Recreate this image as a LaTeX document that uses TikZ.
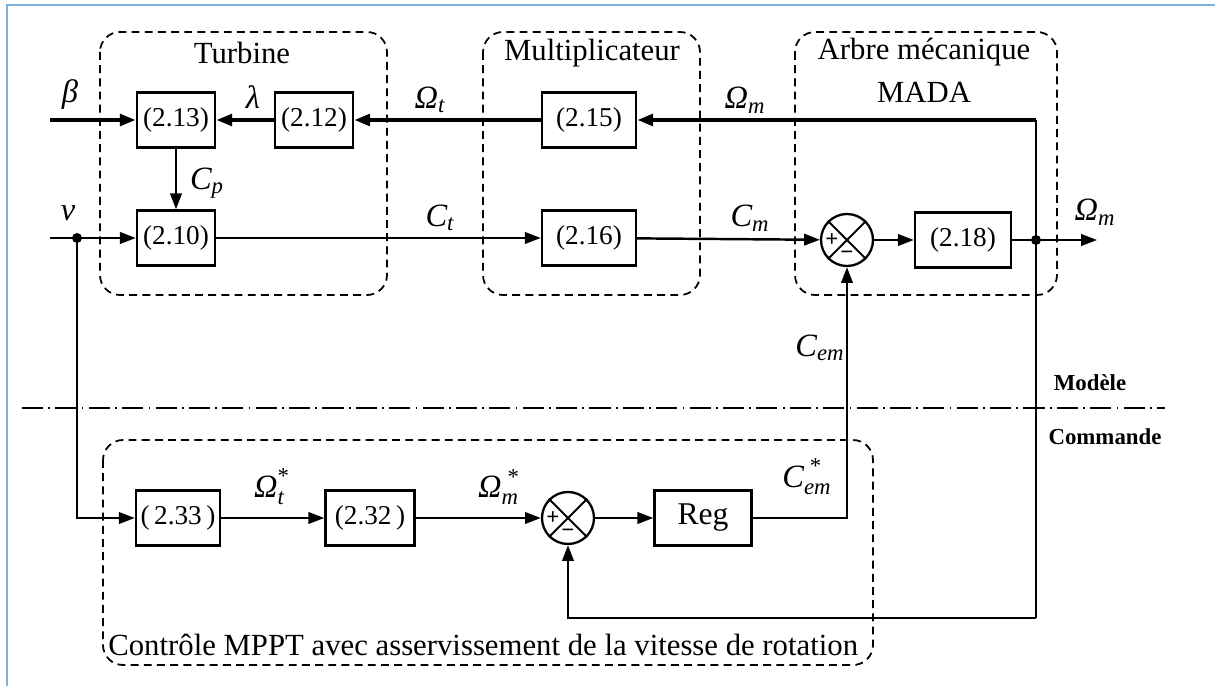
\documentclass[tikz,border=0pt]{standalone}
\usepackage{amsmath}
\usepackage{fontspec}
\setmainfont{Liberation Serif}
\usepackage{xcolor}
\usetikzlibrary{arrows.meta,calc,positioning}
\definecolor{frameblue}{HTML}{7FAEE0}

\tikzset{
  blk/.style={draw,line width=1.4pt,minimum height=1.1cm,inner sep=0pt,
    font=\fontsize{15.5}{18}\selectfont},
  sumnode/.style={draw,circle,line width=1.3pt,minimum size=1.04cm,inner sep=0pt},
  grp/.style={draw,line width=1pt,dash pattern=on 4.5pt off 3pt,rounded corners=0.4cm},
  lbl/.style={inner sep=0pt,font=\fontsize{18.5}{22}\selectfont},
  ttl/.style={inner sep=0pt,font=\fontsize{17.5}{20}\selectfont},
  sgn/.style={inner sep=0pt,font=\fontsize{13}{14}\selectfont\bfseries},
  sig/.style={line width=1.4pt,-{Triangle[length=9pt,width=6.5pt]}},
  bigsig/.style={sig,line width=2.2pt},
}

\begin{document}
\begin{tikzpicture}[x=0.02cm,y=-0.02cm]
    \useasboundingbox (0,0) rectangle (1215,686);
    % cadre
    \draw[frameblue,line width=1.2pt] (7,686) -- (7,5) -- (1215,5);

    % blocs du modele
    \node[blk,minimum width=1.56cm] (b213) at (176,120) {(2.13)};
    \node[blk,minimum width=1.56cm] (b212) at (314,120) {(2.12)};
    \node[blk,minimum width=1.56cm] (b210) at (176,238) {(2.10)};
    \node[blk,minimum width=1.88cm] (b215) at (589,120) {(2.15)};
    \node[blk,minimum width=1.88cm] (b216) at (589,238) {(2.16)};
    \node[sumnode] (s1) at (847,240) {};
    \node[blk,minimum width=1.92cm] (b218) at (963,240) {(2.18)};

    % blocs de la commande
    \node[blk,minimum width=1.68cm] (b233) at (178,518) {(\,2.33\,)};
    \node[blk,minimum width=1.78cm] (b232) at (370,518) {(2.32\,)};
    \node[sumnode] (s2) at (568,518) {};
    \node[blk,minimum width=1.94cm] (reg) at (703,518) {\fontsize{18}{20}\selectfont Reg};

    % comparateurs
    \foreach \s in {s1,s2}{
      \draw[line width=1.2pt] (\s.north west) -- (\s.south east);
      \draw[line width=1.2pt] (\s.north east) -- (\s.south west);
      \node[sgn] at ($(\s.center)+(-15,0)$) {+};
      \node[sgn] at ($(\s.center)+(0,15)$) {\textminus};
    }

    % points de branchement
    \coordinate (beta) at (50,120);
    \coordinate (vin) at (50,238);
    \coordinate (vdot) at (77,238);
    \coordinate (topc) at (1036,120);
    \coordinate (jct) at (1036,240);
    \coordinate (botc) at (1036,618);
    \coordinate (out) at (1097,240);
    \fill (vdot) circle (5);
    \fill (jct) circle (5);

    % liaisons
    \draw[bigsig] (beta) -- (b213);
    \draw[bigsig] (b212) -- (b213);
    \draw[bigsig] (b215) -- (b212);
    \draw[bigsig] (topc) -- (b215);
    \draw[sig] (b213) -- (b210);
    \draw[sig] (vin) -- (b210);
    \draw[sig] (b210) -- (b216);
    \draw[sig] (b216) -- (s1);
    \draw[sig] (s1) -- (b218);
    \draw[line width=1.4pt] (b218) -- (jct);
    \draw[sig] (jct) -- (out);
    \draw[line width=1.4pt] (topc) -- (botc);
    \draw[sig] (botc) -| (s2.south);
    \draw[sig] (vdot) |- (b233);
    \draw[sig] (b233) -- (b232);
    \draw[sig] (b232) -- (s2);
    \draw[sig] (s2) -- (reg);
    \draw[sig] (reg) -| (s1.south);

    % separation modele / commande
    \draw[line width=1.3pt,dash pattern=on 12pt off 3pt on 1pt off 3pt] (22,408) -- (1165,408);
    \node[ttl,font=\fontsize{13}{16}\selectfont\bfseries] (modele) at (1090,383) {Modèle};
    \node[ttl,font=\fontsize{13}{16}\selectfont\bfseries] (commande) at (1105,437) {Commande};

    % sous-ensembles
    \draw[grp] (100,32) rectangle (387,295);
    \draw[grp] (483,32) rectangle (700,295);
    \draw[grp] (795,32) rectangle (1057,295);
    \draw[grp] (103,440) rectangle (873,665);
    \node[ttl] (tturb) at (242,53) {Turbine};
    \node[ttl] (tmult) at (592,53) {Multiplicateur};
    \node[ttl] (tarbre) at (924,52) {Arbre mécanique};
    \node[ttl] (tmada) at (924,92) {MADA};
    \node[ttl,anchor=west] (tmppt) at (108,645)
      {Contrôle MPPT avec asservissement de la vitesse de rotation};

    % grandeurs
    \node[lbl] (lbeta) at (70,95) {\textit{β}};
    \node[lbl] (llam) at (253,97) {\textit{λ}};
    \node[lbl] (lcp) at (207,183) {$\textit{C}_{\textit{p}}$};
    \node[lbl] (lv) at (68,213) {\textit{v}};
    \node[lbl] (lomt) at (430,100) {$\textit{Ω}_{\textit{t}}$};
    \node[lbl] (lct) at (440,218) {$\textit{C}_{\textit{t}}$};
    \node[lbl] (lomm) at (745,100) {$\textit{Ω}_{\textit{m}}$};
    \node[lbl] (lcm) at (750,218) {$\textit{C}_{\textit{m}}$};
    \node[lbl] (lomo) at (1095,212) {$\textit{Ω}_{\textit{m}}$};
    \node[lbl] (lcem) at (820,348) {$\textit{C}_{\textit{em}}$};
    \node[lbl] (lcems) at (807,477) {$\textit{C}_{\textit{em}}^{\;\textup{*}}$};
    \node[lbl] (lomts) at (272,487) {$\textit{Ω}_{\textit{t}}^{\textup{*}}$};
    \node[lbl] (lomms) at (499,487) {$\textit{Ω}_{\textit{m}}^{\;\textup{*}}$};
\end{tikzpicture}
\end{document}
